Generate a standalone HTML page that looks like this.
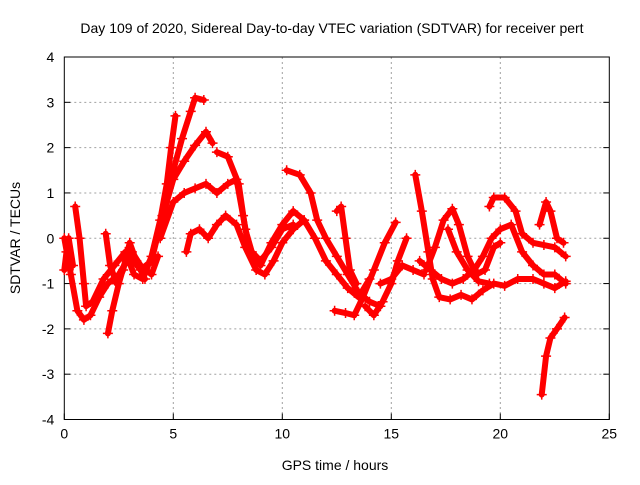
<!DOCTYPE html>
<html><head><meta charset="utf-8"><style>
body{margin:0;background:#fff;}
svg text{font-family:"Liberation Sans",sans-serif;font-size:14px;fill:#000;}
</style></head><body>
<svg id="chart" width="640" height="480" xmlns="http://www.w3.org/2000/svg">
<rect width="640" height="480" fill="#fff"/>
<text x="332" y="33" text-anchor="middle">Day 109 of 2020, Sidereal Day-to-day VTEC variation (SDTVAR) for receiver pert</text>
<g id="grid"></g>
<g id="axes"></g>
<g id="series"></g>
<text x="335" y="470" text-anchor="middle">GPS time / hours</text>
<text transform="translate(20,238) rotate(-90)" text-anchor="middle">SDTVAR / TECUs</text>
</svg>
<script>
const xTicks=[0,5,10,15,20,25];
const yTicks=[-4,-3,-2,-1,0,1,2,3,4];
const track1=[[0,0],[0.3,-0.8],[0.6,-1.6],[0.9,-1.8],[1.2,-1.7],[1.6,-1.3],[2.0,-1.0],[2.5,-0.8],[3.0,-0.4],[3.5,-0.7],[4.0,-0.5],[4.5,0.5],[5.0,1.5],[5.4,2.2],[5.8,2.8],[6.0,3.1],[6.4,3.05]];
const track2=[[0.5,0.7],[0.7,0],[0.9,-1],[1.0,-1.5],[1.3,-1.4],[1.8,-0.9],[2.3,-0.6],[2.8,-0.3],[3.2,-0.8],[3.6,-0.9],[4.0,-0.4],[4.4,0.4],[4.7,1.2],[4.9,2.0],[5.1,2.7]];
const track3=[[4.3,0],[4.7,0.8],[5.0,1.3],[5.5,1.7],[6.0,2.05],[6.5,2.35],[6.8,2.1]];
const track4=[[7.0,1.9],[7.5,1.8],[8.0,1.2],[8.3,0.2],[8.6,-0.3],[9.0,-0.5],[9.5,-0.2],[10,0.2],[10.5,0.3]];
const track5=[[4.4,0],[5,0.8],[5.5,1.0],[6,1.1],[6.5,1.2],[7,1.0],[7.5,1.2],[7.9,1.3],[8.2,0.5],[8.5,-0.3],[9,-0.6],[9.5,-0.1],[10,0.3],[10.5,0.6],[11,0.4],[11.5,0],[12,-0.5],[12.5,-0.8],[13,-1.1],[13.5,-1.3],[14,-0.9]];
const track6=[[5.6,-0.3],[5.8,0.1],[6.2,0.2],[6.6,0],[7.0,0.3],[7.4,0.5],[7.9,0.3],[8.3,-0.2],[8.8,-0.7],[9.2,-0.8],[9.6,-0.5],[10,-0.1],[10.5,0.2],[11,0.4]];
const track7=[[10.2,1.5],[10.8,1.4],[11.3,1.0],[11.6,0.4],[12,0],[12.5,-0.4],[13,-0.8],[13.5,-1.2],[14,-1.4],[14.5,-1.5]];
const track8=[[12.4,-1.6],[12.9,-1.65],[13.3,-1.7],[13.7,-1.3],[14.2,-0.7],[14.7,-0.1],[15.2,0.35]];
const track9=[[13.8,-1.5],[14.2,-1.7],[14.6,-1.4],[15.0,-1.0],[15.3,-0.5],[15.7,0]];
const track10=[[12.5,0.6],[12.7,0.7],[12.9,0],[13.1,-0.7],[13.4,-1.0]];
const track11=[[16.1,1.4],[16.4,0.6],[16.7,-0.3],[16.9,-0.9],[17.2,-1.3],[17.7,-1.35],[18.2,-1.25],[18.7,-1.35],[19.2,-1.15],[19.7,-1.0],[20.2,-1.05],[20.8,-0.9],[21.5,-0.9],[22.0,-1.0],[22.5,-1.1],[23.0,-0.95]];
const track12=[[16.6,-0.7],[17.0,-0.2],[17.4,0.4],[17.8,0.65],[18.1,0.3],[18.5,-0.4],[18.9,-0.8],[19.3,-0.7],[19.7,-0.2],[20.0,-0.1]];
const track13=[[19.5,0.7],[19.7,0.9],[20.2,0.9],[20.7,0.6],[21.0,0.1],[21.5,-0.1],[22,-0.15],[22.5,-0.2],[23,-0.4]];
const track14=[[21.8,0.3],[22.1,0.8],[22.3,0.6],[22.6,0],[22.9,-0.1]];
const track15=[[21.9,-3.45],[22.1,-2.6],[22.3,-2.2],[22.6,-2.0],[22.95,-1.75]];
const track16=[[16.3,-0.5],[16.8,-0.7],[17.3,-0.9],[17.8,-1.0],[18.3,-0.9],[18.8,-0.7],[19.2,-0.4],[19.6,0],[20.0,0.2],[20.5,0.3],[21.0,-0.3],[21.5,-0.6],[22,-0.8],[22.5,-0.8],[23,-1.0]];
const track17=[[14.5,-1.0],[15,-0.9],[15.5,-0.6],[16,-0.7],[16.5,-0.8]];
const track18=[[17.6,0.2],[18,-0.3],[18.5,-0.7],[19,-0.95],[19.5,-1.0]];
const track19=[[2.0,-2.1],[2.2,-1.6],[2.5,-1.0],[2.8,-0.5],[3.1,-0.3],[3.5,-0.6],[4.0,-0.8],[4.3,-0.4]];
const track20=[[1.9,0.1],[2.1,-0.6],[2.4,-1.0],[2.7,-0.7],[3.0,-0.1],[3.3,-0.5],[3.7,-0.9]];
const track21=[[0,-0.7],[0.1,-0.3],[0.2,0],[0.4,-0.6]];
const tracks=[track1,track2,track3,track4,track5,track6,track7,track8,track9,track10,track11,track12,track13,track14,track15,track16,track17,track18,track19,track20,track21];

const L=64.3,R=609.3,T=57,B=419.5;
const xMin=0,xMax=25,yMin=-4,yMax=4;
const X=v=>L+(v-xMin)/(xMax-xMin)*(R-L);
const Y=v=>B-(v-yMin)/(yMax-yMin)*(B-T);
const NS="http://www.w3.org/2000/svg";
function mk(tag,attrs,parent){const e=document.createElementNS(NS,tag);for(const k in attrs)e.setAttribute(k,attrs[k]);parent.appendChild(e);return e;}
const grid=document.getElementById('grid'),axes=document.getElementById('axes'),series=document.getElementById('series');
xTicks.forEach(t=>{
  if(t>xMin&&t<xMax){const g=mk('line',{x1:X(t),x2:X(t),y1:T,y2:B,stroke:'#a0a0a0','stroke-dasharray':'2,3'},grid);
  
  }
  const tk=mk('line',{x1:X(t),x2:X(t),y1:B,y2:B-6,stroke:'#000'},axes);
  
  
  const tx=mk('text',{x:X(t),y:B+19,'text-anchor':'middle'},axes);tx.textContent=t;
  
  
});
yTicks.forEach(t=>{
  if(t>yMin&&t<yMax){const g=mk('line',{x1:L,x2:R,y1:Y(t),y2:Y(t),stroke:'#a0a0a0','stroke-dasharray':'2,3'},grid);
  
  }
  const tk=mk('line',{x1:L,x2:L+6,y1:Y(t),y2:Y(t),stroke:'#000'},axes);
  
  
  const tk2=mk('line',{x1:R,x2:R-6,y1:Y(t),y2:Y(t),stroke:'#000'},axes);
  
  
  const tx=mk('text',{x:L-10,y:Y(t)+5,'text-anchor':'end'},axes);tx.textContent=t;
  
  
});
const fr=mk('rect',{x:L,y:T,width:R-L,height:B-T,fill:'none',stroke:'#000'},axes);


tracks.forEach(tr=>{
  const pl=mk('polyline',{points:tr.map(p=>X(p[0])+','+Y(p[1])).join(' '),fill:'none',stroke:'#ff0000','stroke-width':6,'stroke-linejoin':'round','stroke-linecap':'round'},series);
  
  
  tr.forEach(p=>{
    const x=X(p[0]),y=Y(p[1]);
    const m=mk('path',{d:`M${x-5},${y}H${x+5}M${x},${y-5}V${y+5}`,stroke:'#ff0000','stroke-width':1.5},series);
    
    
  });
});
</script>
</body></html>
